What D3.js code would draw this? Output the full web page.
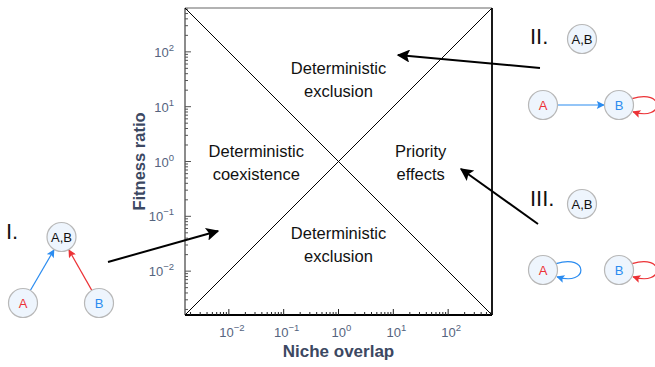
<!DOCTYPE html>
<html>
<head>
<meta charset="utf-8">
<script src="https://cdn.jsdelivr.net/npm/d3@7"></script>
<style>
  body { margin: 0; background: #fff; }
  svg { font-family: "Liberation Sans", Arial, Helvetica, sans-serif; }
</style>
</head>
<body>
<div id="chart"></div>
<script>
// data
const domainExp = [-2.8, 2.8];
const majorExp = [-2, -1, 0, 1, 2];
const regionLabels = [
  { lines: ["Deterministic", "exclusion"], x: 1, y: 31.6 },
  { lines: ["Deterministic", "coexistence"], x: 0.0316, y: 1 },
  { lines: ["Priority", "effects"], x: 31.6, y: 1 },
  { lines: ["Deterministic", "exclusion"], x: 1, y: 0.0316 }
];
const panelLabels = ["I.", "II.", "III."];

const width = 655, height = 367;
const plotBox = {left: 185, top: 8, size: 307};

const svg = d3.select("#chart").append("svg")
  .attr("width", width).attr("height", height);

const defs = svg.append("defs");
function marker(id, color, w, h) {
  defs.append("marker")
    .attr("id", id).attr("viewBox", "0 0 10 10")
    .attr("refX", 9).attr("refY", 5)
    .attr("markerWidth", w).attr("markerHeight", h)
    .attr("markerUnits", "userSpaceOnUse")
    .attr("orient", "auto")
    .append("path").attr("d", "M0,0 L10,5 L0,10 L2,5 z").attr("fill", color);
}
marker("arrBlack", "#000", 16, 13);
marker("arrBlue", "#2b8cf0", 9, 8);
marker("arrRed", "#ec3236", 9, 8);

const lo = Math.pow(10, domainExp[0]), hi = Math.pow(10, domainExp[1]);
const x = d3.scaleLog().domain([lo, hi]).range([plotBox.left, plotBox.left + plotBox.size]);
const y = d3.scaleLog().domain([lo, hi]).range([plotBox.top + plotBox.size, plotBox.top]);

// minor ticks
let minor = [];
for (let e = -3; e <= 2; e++) {
  for (let m = 2; m <= 9; m++) {
    const v = m * Math.pow(10, e);
    if (v > lo && v < hi) minor.push(v);
  }
}
const major = majorExp.map(e => Math.pow(10, e));

// frame (top/left grey, bottom/right black)
const x0 = x.range()[0], x1 = x.range()[1], y0 = y.range()[1], y1 = y.range()[0];
svg.append("line").attr("x1", x0).attr("x2", x1).attr("y1", y0).attr("y2", y0)
  .attr("stroke", "#666").attr("stroke-width", 1.2);
svg.append("line").attr("x1", x0).attr("x2", x0).attr("y1", y0).attr("y2", y1)
  .attr("stroke", "#666").attr("stroke-width", 1.5);
svg.append("line").attr("x1", x0).attr("x2", x1).attr("y1", y1).attr("y2", y1)
  .attr("stroke", "#000").attr("stroke-width", 1.8);
svg.append("line").attr("x1", x1).attr("x2", x1).attr("y1", y0).attr("y2", y1)
  .attr("stroke", "#000").attr("stroke-width", 1.8);

// ticks, inside
const tickCol = "#555";
svg.append("g").selectAll("line").data(minor).join("line")
  .attr("x1", d => x(d)).attr("x2", d => x(d)).attr("y1", y1).attr("y2", y1 - 3)
  .attr("stroke", "#222").attr("stroke-width", 1);
svg.append("g").selectAll("line").data(major).join("line")
  .attr("x1", d => x(d)).attr("x2", d => x(d)).attr("y1", y1).attr("y2", y1 - 6)
  .attr("stroke", "#222").attr("stroke-width", 1);
svg.append("g").selectAll("line").data(minor).join("line")
  .attr("y1", d => y(d)).attr("y2", d => y(d)).attr("x1", x0).attr("x2", x0 + 3)
  .attr("stroke", tickCol).attr("stroke-width", 1);
svg.append("g").selectAll("line").data(major).join("line")
  .attr("y1", d => y(d)).attr("y2", d => y(d)).attr("x1", x0).attr("x2", x0 + 6)
  .attr("stroke", tickCol).attr("stroke-width", 1);

// tick labels
const labCol = "#55647e";
function powLabel(sel, e) {
  sel.append("tspan").text("10");
  sel.append("tspan").attr("dy", -6).attr("font-size", 9.5).text(e < 0 ? "\u2212" + (-e) : e);
}
svg.append("g").selectAll("text").data(majorExp).join("text")
  .attr("x", d => x(Math.pow(10, d)) + 3).attr("y", y1 + 22)
  .attr("text-anchor", "middle").attr("font-size", 13).attr("fill", labCol)
  .each(function(d) { powLabel(d3.select(this), d); });
svg.append("g").selectAll("text").data(majorExp).join("text")
  .attr("x", x0 - 11).attr("y", d => y(Math.pow(10, d)) + 5)
  .attr("text-anchor", "end").attr("font-size", 13).attr("fill", labCol)
  .each(function(d) { powLabel(d3.select(this), d); });

// axis titles
const titleCol = "#3c4862";
svg.append("text").attr("x", (x0 + x1) / 2).attr("y", 357)
  .attr("text-anchor", "middle").attr("font-weight", "bold").attr("font-size", 17)
  .attr("fill", titleCol).text("Niche overlap");
svg.append("text").attr("transform", `translate(145,${(y0 + y1) / 2}) rotate(-90)`)
  .attr("text-anchor", "middle").attr("font-weight", "bold").attr("font-size", 16.5)
  .attr("fill", titleCol).text("Fitness ratio");

// diagonals y = x and y = 1/x
const line = d3.line().x(d => x(d[0])).y(d => y(d[1]));
svg.append("path").attr("d", line([[lo, lo], [hi, hi]]))
  .attr("stroke", "#000").attr("stroke-width", 1).attr("fill", "none");
svg.append("path").attr("d", line([[lo, hi], [hi, lo]]))
  .attr("stroke", "#000").attr("stroke-width", 1).attr("fill", "none");

// region labels
regionLabels.forEach(r => {
  const t = svg.append("text").attr("text-anchor", "middle").attr("font-size", 16.5).attr("fill", "#111");
  r.lines.forEach((l, i) => {
    t.append("tspan").attr("x", x(r.x)).attr("y", y(r.y) - 5 + i * 23).text(l);
  });
});

// pointer arrows
const arrows = [[108, 262, 218, 231], [540, 68, 398, 55], [538, 224, 461, 169]];
svg.append("g").selectAll("line").data(arrows).join("line")
  .attr("x1", d => d[0]).attr("y1", d => d[1]).attr("x2", d => d[2]).attr("y2", d => d[3])
  .attr("stroke", "#000").attr("stroke-width", 2).attr("marker-end", "url(#arrBlack)");

// panel labels
const panelPos = [[6, 239], [530, 44], [530, 206]];
svg.append("g").selectAll("text").data(panelLabels).join("text")
  .attr("x", (d, i) => panelPos[i][0]).attr("y", (d, i) => panelPos[i][1])
  .attr("font-size", 22).attr("fill", "#111").text(d => d);

// small state diagrams
const blue = "#2b8cf0", red = "#ec3236", r = 14.5;
const nodes = [
  {id: "AB1", label: "A,B", cx: 61.5, cy: 237, col: "#111"},
  {id: "A1", label: "A", cx: 23, cy: 303, col: red},
  {id: "B1", label: "B", cx: 99, cy: 303, col: blue},
  {id: "AB2", label: "A,B", cx: 582, cy: 39, col: "#111"},
  {id: "A2", label: "A", cx: 543, cy: 105, col: red},
  {id: "B2", label: "B", cx: 619, cy: 105, col: blue},
  {id: "AB3", label: "A,B", cx: 582, cy: 204, col: "#111"},
  {id: "A3", label: "A", cx: 543, cy: 270, col: red},
  {id: "B3", label: "B", cx: 619, cy: 270, col: blue}
];
const byId = Object.fromEntries(nodes.map(n => [n.id, n]));
const edges = [
  {s: "A1", t: "AB1", col: blue},
  {s: "B1", t: "AB1", col: red},
  {s: "A2", t: "B2", col: blue}
];
const loops = [
  {n: "B2", col: red}, {n: "A3", col: blue}, {n: "B3", col: red}
];

edges.forEach(e => {
  const s = byId[e.s], t = byId[e.t];
  const dx = t.cx - s.cx, dy = t.cy - s.cy, L = Math.hypot(dx, dy);
  const ux = dx / L, uy = dy / L;
  svg.append("line")
    .attr("x1", s.cx + ux * r).attr("y1", s.cy + uy * r)
    .attr("x2", t.cx - ux * (r + 0.5)).attr("y2", t.cy - uy * (r + 0.5))
    .attr("stroke", e.col).attr("stroke-width", 1.2).attr("marker-end", `url(#arr${e.col === blue ? "Blue" : "Red"})`);
});
loops.forEach(l => {
  const n = byId[l.n];
  const sx = n.cx + r * Math.cos(-0.45), sy = n.cy + r * Math.sin(-0.45);
  const ex = n.cx + r * Math.cos(0.45), ey = n.cy + r * Math.sin(0.45);
  svg.append("path")
    .attr("d", `M${sx},${sy} C${n.cx + 46},${n.cy - 17} ${n.cx + 46},${n.cy + 17} ${ex + 1},${ey + 0.5}`)
    .attr("fill", "none").attr("stroke", l.col).attr("stroke-width", 1.2)
    .attr("marker-end", `url(#arr${l.col === blue ? "Blue" : "Red"})`);
});

const ng = svg.append("g").selectAll("g").data(nodes).join("g");
ng.append("circle").attr("cx", d => d.cx).attr("cy", d => d.cy).attr("r", r)
  .attr("fill", "#eef5fd").attr("stroke", "#b8b8b8").attr("stroke-width", 1.2);
ng.append("text").attr("x", d => d.cx).attr("y", d => d.cy + 4.5)
  .attr("text-anchor", "middle").attr("font-size", 13).attr("fill", d => d.col).text(d => d.label);
</script>
</body>
</html>
